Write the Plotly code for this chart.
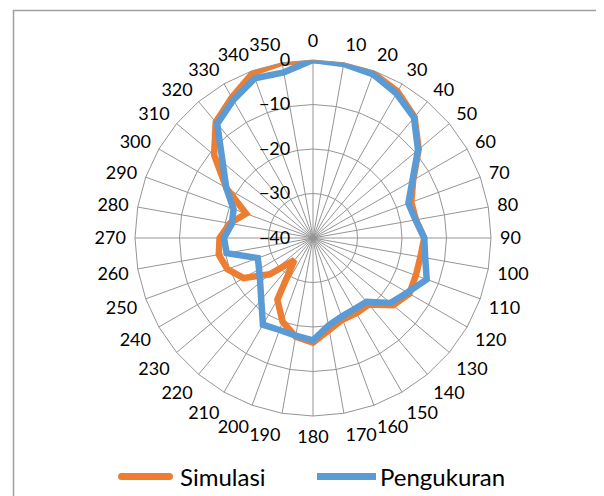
import plotly.graph_objects as go

angles = [str(a) for a in range(0, 360, 10)]

simulasi = [0, 0, -0.5, -2, -4.5, -9, -14, -16.5, -16.5, -15,
            -15.5, -15.4, -15, -16.5, -20.5, -20.5, -20.5, -19, -16.5, -17.5,
            -20, -24, -33.5, -27.3, -22, -19.5, -18.5, -19, -21, -24,
            -17.5, -11, -6, -3.5, -0.5, 0]

pengukuran = [0, -0.3, -0.8, -2.5, -4.7, -9.2, -14.2, -17.2, -16.6, -15,
              -14.4, -12.8, -15.5, -17.3, -21.3, -21.5, -21.2, -20, -17, -17.7,
              -18, -17.5, -21.9, -24.5, -26, -26.8, -20.3, -20, -21.5, -21,
              -17.5, -13.5, -6.5, -4.2, -1.8, -2.2]

series_names = ["Simulasi", "Pengukuran"]
series_colors = ["#ED7D31", "#5B9BD5"]

radial_ticks = [-40, -30, -20, -10, 0]

FONT = "Lato"
GRID = "#959595"

# page body has an 8px margin; work in page pixels and convert
OFF = 8
W, H = 604 - OFF, 496 - OFF


def px(x):
    return (x - OFF) / W


def py(y):
    return 1 - (y - OFF) / H


fig = go.Figure()
for vals, name, col in zip([simulasi, pengukuran], series_names, series_colors):
    fig.add_trace(go.Scatterpolar(
        r=vals + vals[:1], theta=angles + angles[:1],
        mode="lines", name=name, showlegend=False,
        line=dict(color=col, width=6.5)))

cx, cy, R = 313, 238, 178

shapes = [dict(type="rect", xref="paper", yref="paper",
               x0=px(13.5), x1=px(602), y0=-0.05, y1=py(10.5),
               line=dict(color="#a0a0a0", width=1.5), fillcolor="rgba(0,0,0,0)")]
annotations = []

# custom legend
leg_y = 476.5
leg_items = [(118, 173, 178), (317, 376, 378)]
for (x0, x1, tx), name, col in zip(leg_items, series_names, series_colors):
    shapes.append(dict(type="line", xref="paper", yref="paper",
                       x0=px(x0 + 3), x1=px(x1 - 3), y0=py(leg_y), y1=py(leg_y),
                       line=dict(color=col, width=7)))
    if name == "Simulasi":
        for ex in (x0 + 3.5, x1 - 3.5):
            shapes.append(dict(type="circle", xref="paper", yref="paper",
                               x0=px(ex - 3.5), x1=px(ex + 3.5),
                               y0=py(leg_y + 3.5), y1=py(leg_y - 3.5),
                               line=dict(width=0), fillcolor=col))
    else:
        shapes[-1]["x0"] = px(x0)
        shapes[-1]["x1"] = px(x1)
    annotations.append(dict(text=name, xref="paper", yref="paper",
                            x=px(tx), y=py(leg_y), xanchor="left", yanchor="middle",
                            showarrow=False, font=dict(size=24, family=FONT, color="black")))

fig.update_layout(
    width=W, height=H,
    margin=dict(l=0, r=0, t=0, b=0),
    paper_bgcolor="white", plot_bgcolor="white",
    font=dict(family=FONT, size=18, color="#000000"),
    polar=dict(
        domain=dict(x=[px(cx - R), px(cx + R)],
                    y=[py(cy + R), py(cy - R)]),
        bgcolor="white",
        gridshape="linear",
        angularaxis=dict(type="category", rotation=90, direction="clockwise",
                         categoryarray=angles, categoryorder="array",
                         ticks="outside", ticklen=5, tickcolor="rgba(0,0,0,0)",
                         showline=True, linecolor=GRID, linewidth=1,
                         gridcolor=GRID, gridwidth=1,
                         tickfont=dict(size=18, family=FONT)),
        radialaxis=dict(range=[-40, 0], tickvals=radial_ticks,
                        angle=90, side="counterclockwise", tickangle=90,
                        showline=False, ticks="outside", ticklen=16,
                        tickcolor="rgba(0,0,0,0)",
                        gridcolor=GRID, gridwidth=1,
                        tickfont=dict(size=18, family=FONT)),
    ),
    showlegend=False,
    shapes=shapes,
    annotations=annotations,
)

fig.write_html("out.html")
